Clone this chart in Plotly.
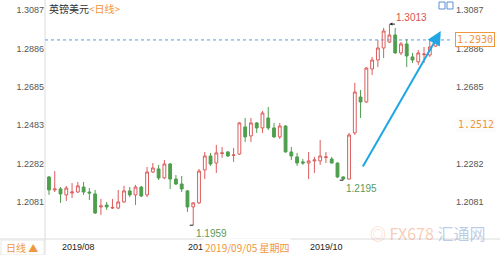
import plotly.graph_objects as go

dates = [
    "2019-07-30", "2019-07-31",
    "2019-08-01", "2019-08-02", "2019-08-05", "2019-08-06", "2019-08-07", "2019-08-08", "2019-08-09",
    "2019-08-12", "2019-08-13", "2019-08-14", "2019-08-15", "2019-08-16", "2019-08-19", "2019-08-20",
    "2019-08-21", "2019-08-22", "2019-08-23", "2019-08-26", "2019-08-27", "2019-08-28", "2019-08-29",
    "2019-08-30",
    "2019-09-02", "2019-09-03", "2019-09-04", "2019-09-05", "2019-09-06", "2019-09-09", "2019-09-10",
    "2019-09-11", "2019-09-12", "2019-09-13", "2019-09-16", "2019-09-17", "2019-09-18", "2019-09-19",
    "2019-09-20", "2019-09-23", "2019-09-24", "2019-09-25", "2019-09-26", "2019-09-27", "2019-09-30",
    "2019-10-01", "2019-10-02", "2019-10-03", "2019-10-04", "2019-10-07", "2019-10-08", "2019-10-09",
    "2019-10-10", "2019-10-11", "2019-10-14", "2019-10-15", "2019-10-16", "2019-10-17", "2019-10-18",
    "2019-10-21", "2019-10-22", "2019-10-23", "2019-10-24", "2019-10-25", "2019-10-28", "2019-10-29",
    "2019-10-30", "2019-10-31",
]

open_ = [
    1.2212, 1.2144, 1.2149, 1.2118, 1.2128, 1.2133, 1.2159, 1.2133, 1.2123, 1.2055,
    1.2065, 1.2049, 1.2049, 1.2081, 1.2139, 1.2118, 1.2159, 1.2118, 1.2238, 1.2254,
    1.2207, 1.2280, 1.2201, 1.2175, 1.2139, 1.2055, 1.2076, 1.2249, 1.2322, 1.2285,
    1.2335, 1.2343, 1.2325, 1.2332, 1.2474, 1.2427, 1.2495, 1.2469, 1.2521, 1.2469,
    1.2422, 1.2479, 1.2343, 1.2317, 1.2291, 1.2285, 1.2296, 1.2296, 1.2314, 1.2306,
    1.2285, 1.2212, 1.2201, 1.2443, 1.2631, 1.2605, 1.2778, 1.2825, 1.2888, 1.2919,
    1.2956, 1.2862, 1.2909, 1.2841, 1.2815, 1.2853, 1.2851, 1.2898,
]
high = [
    1.2217, 1.2243, 1.2159, 1.2165, 1.2180, 1.2186, 1.2186, 1.2154, 1.2144, 1.2097,
    1.2081, 1.2097, 1.2144, 1.2165, 1.2159, 1.2170, 1.2165, 1.2264, 1.2285, 1.2275,
    1.2301, 1.2285, 1.2222, 1.2217, 1.2144, 1.2080, 1.2254, 1.2343, 1.2338, 1.2380,
    1.2369, 1.2348, 1.2364, 1.2500, 1.2521, 1.2521, 1.2500, 1.2558, 1.2579, 1.2495,
    1.2495, 1.2484, 1.2369, 1.2338, 1.2306, 1.2343, 1.2317, 1.2406, 1.2343, 1.2317,
    1.2288, 1.2215, 1.2443, 1.2705, 1.2668, 1.2788, 1.2841, 1.2930, 1.2993, 1.3013,
    1.2993, 1.2919, 1.2935, 1.2862, 1.2877, 1.2893, 1.2930, 1.2940,
]
low = [
    1.2118, 1.2133, 1.2076, 1.2086, 1.2102, 1.2128, 1.2118, 1.2091, 1.2018, 1.2013,
    1.2039, 1.2044, 1.2044, 1.2076, 1.2107, 1.2065, 1.2107, 1.2107, 1.2233, 1.2196,
    1.2201, 1.2149, 1.2170, 1.2133, 1.2029, 1.1959, 1.2071, 1.2201, 1.2270, 1.2233,
    1.2312, 1.2317, 1.2291, 1.2327, 1.2395, 1.2395, 1.2443, 1.2443, 1.2458, 1.2416,
    1.2411, 1.2340, 1.2301, 1.2270, 1.2275, 1.2201, 1.2233, 1.2275, 1.2285, 1.2283,
    1.2207, 1.2195, 1.2198, 1.2432, 1.2521, 1.2600, 1.2746, 1.2788, 1.2835, 1.2914,
    1.2858, 1.2851, 1.2788, 1.2809, 1.2799, 1.2809, 1.2841, 1.2893,
]
close = [
    1.2144, 1.2149, 1.2123, 1.2154, 1.2133, 1.2165, 1.2133, 1.2128, 1.2023, 1.2060,
    1.2055, 1.2052, 1.2081, 1.2139, 1.2118, 1.2159, 1.2112, 1.2238, 1.2259, 1.2207,
    1.2280, 1.2201, 1.2175, 1.2149, 1.2055, 1.2076, 1.2243, 1.2322, 1.2280, 1.2338,
    1.2338, 1.2322, 1.2327, 1.2495, 1.2422, 1.2495, 1.2469, 1.2547, 1.2469, 1.2422,
    1.2479, 1.2343, 1.2322, 1.2285, 1.2285, 1.2296, 1.2301, 1.2322, 1.2317, 1.2285,
    1.2212, 1.2201, 1.2432, 1.2657, 1.2605, 1.2783, 1.2825, 1.2888, 1.2977, 1.2956,
    1.2862, 1.2909, 1.2846, 1.2825, 1.2862, 1.2856, 1.2893, 1.2930,
]

y_ticks = [1.3087, 1.2886, 1.2685, 1.2483, 1.2282, 1.2081]
y_ticks_right_hidden = [1.2483]          # covered by the crosshair price label
month_starts = ["2019-08-01", "2019-09-02", "2019-10-01"]
month_labels = ["2019/08", "201", "2019/10"]   # September label is cut by the crosshair date
crosshair_date = "2019/09/05 星期四"
crosshair_price = "1.2512"

UP = "#dd5c5c"
DOWN = "#4e9e4e"
ORANGE = "#f0963c"
FONT = "Liberation Sans, Arial, Noto Sans CJK SC"

xi = list(range(len(dates)))
tickx = [dates.index(d) for d in month_starts]

# pixel helpers for layout (paper coordinates)
L, R, T, B = 45, 453, 0, 239
def px(x):
    return (x - L) / (R - L)
def py(y):
    return (B - y) / (B - T)

fig = go.Figure()
fig.add_trace(go.Candlestick(
    x=xi, open=open_, high=high, low=low, close=close,
    increasing=dict(line=dict(color=UP, width=1), fillcolor="white"),
    decreasing=dict(line=dict(color=DOWN, width=1), fillcolor=DOWN),
    whiskerwidth=0, showlegend=False, hoverinfo="skip",
))
fig.add_trace(go.Scatter(x=xi, y=close, yaxis="y2", mode="lines",
                         line=dict(width=0, color="rgba(0,0,0,0)"),
                         showlegend=False, hoverinfo="skip"))

yr = [1.18868, 1.31394]
tick_text = [f"{v:.4f}" for v in y_ticks]
tick_text_r = ["" if v in y_ticks_right_hidden else f"{v:.4f}" for v in y_ticks]
fig.update_layout(
    width=500, height=255,
    margin=dict(l=L, r=500 - R, t=T, b=255 - B),
    paper_bgcolor="white", plot_bgcolor="white",
    font=dict(family=FONT, size=9, color="#444"),
    boxgap=0.3,
    xaxis=dict(
        range=[-0.69, 70.02], showgrid=False, zeroline=False,
        showticklabels=False, showline=False, rangeslider=dict(visible=False), ticks="",
    ),
    yaxis=dict(
        range=yr, tickvals=y_ticks, ticktext=tick_text, showgrid=False,
        zeroline=False, showline=False, ticks="",
        tickfont=dict(size=9, color="#555", family=FONT),
    ),
    yaxis2=dict(
        range=yr, tickvals=y_ticks, ticktext=tick_text_r, showgrid=False,
        zeroline=False, showline=False, ticks="", overlaying="y", side="right",
        tickfont=dict(size=9, color="#555", family=FONT), ticklabelstandoff=2,
    ),
)

shapes = []
shapes.append(dict(type="line", xref="paper", yref="paper", x0=0, x1=0, y0=py(0), y1=py(255),
                   line=dict(color="#dcdcdc", width=1)))
shapes.append(dict(type="line", xref="paper", yref="paper", x0=px(0), x1=px(500), y0=0, y1=0,
                   line=dict(color="#dcdcdc", width=1)))
shapes.append(dict(type="rect", xref="paper", yref="paper", x0=px(1), x1=px(44), y0=py(240), y1=py(255),
                   line=dict(color="#e6e6e6", width=1)))
shapes.append(dict(type="line", xref="paper", yref="y", x0=0, x1=1, y0=close[-1], y1=close[-1],
                   line=dict(color="#5b9bd5", width=1, dash="dot")))
shapes.append(dict(type="rect", xref="paper", yref="paper", x0=px(439), x1=px(445), y0=py(9), y1=py(2),
                   line=dict(color="#5b8fd0", width=1)))
shapes.append(dict(type="rect", xref="paper", yref="paper", x0=px(447), x1=px(453), y0=py(9), y1=py(2),
                   line=dict(color="#5b8fd0", width=1)))
fig.update_layout(shapes=shapes)

i_hi = high.index(max(high))
i_lo = low.index(min(low))
i_lo2 = 51

ann = []
ann.append(dict(xref="paper", yref="paper", x=px(47), y=1, xanchor="left", yanchor="top", yshift=1,
                text=f'英镑美元<span style="color:{ORANGE}">&lt;日线&gt;</span>', showarrow=False,
                font=dict(size=10, color="#333", family="Noto Sans CJK SC")))
# month labels, left-aligned at the first trading day
for tx, lab in zip(tickx, month_labels):
    ann.append(dict(x=tx, y=py(247), xref="x", yref="paper", xanchor="left", yanchor="middle",
                    xshift=-1, text=lab, showarrow=False,
                    font=dict(size=9, color="#222", family=FONT)))
# high marker
ann.append(dict(x=i_hi, y=high[i_hi], xref="x", yref="y", ax=7, ay=0, text="", showarrow=True,
                arrowhead=2, arrowsize=0.6, arrowwidth=1, arrowcolor="#222", standoff=0))
ann.append(dict(x=i_hi, y=high[i_hi], xref="x", yref="y", xanchor="left", yanchor="bottom",
                xshift=5, yshift=-1, text=f"{high[i_hi]:.4f}", showarrow=False,
                font=dict(size=10, color="#d9534f")))
# low markers
for idx, val in [(i_lo, low[i_lo]), (i_lo2, low[i_lo2])]:
    ann.append(dict(x=idx, y=val, xref="x", yref="y", ax=-5, ay=0, text="", showarrow=True,
                    arrowhead=0, arrowwidth=1, arrowcolor="#222", standoff=0))
    ann.append(dict(x=idx, y=val, xref="x", yref="y", xanchor="left", yanchor="top",
                    xshift=1, yshift=-1, text=f"{val:.4f}", showarrow=False,
                    font=dict(size=10, color="#5a9a5a")))
# trend arrow
ann.append(dict(x=67.9, y=1.2977, ax=54.25, ay=1.2259, xref="x", yref="y", axref="x", ayref="y",
                text="", showarrow=True, arrowhead=2, arrowsize=1.4, arrowwidth=2,
                arrowcolor="#1ea7e4", standoff=0))
# right price labels
ann.append(dict(xref="paper", yref="y", x=px(455), y=close[-1], xanchor="left", yanchor="middle",
                text=f"{close[-1]:.4f}", showarrow=False, bgcolor="white",
                bordercolor=ORANGE, borderwidth=1, borderpad=1,
                font=dict(size=10, color=ORANGE, family="DejaVu Sans Mono")))
ann.append(dict(xref="paper", yref="paper", x=px(456), y=py(124), xanchor="left", yanchor="middle",
                text=crosshair_price, showarrow=False, bgcolor="#fbfbfb",
                font=dict(size=10, color=ORANGE, family="DejaVu Sans Mono")))
# crosshair date label
ann.append(dict(xref="paper", yref="paper", x=px(203), y=py(247), xanchor="left", yanchor="middle",
                text=crosshair_date, showarrow=False, bgcolor="white",
                font=dict(size=10, color=ORANGE, family="Noto Sans CJK SC")))
# bottom tab
ann.append(dict(xref="paper", yref="paper", x=px(22), y=py(247), xanchor="center", yanchor="middle",
                text="日线 ▲", showarrow=False,
                font=dict(size=10, color=ORANGE, family="Noto Sans CJK SC")))
# watermark
ann.append(dict(xref="paper", yref="paper", x=px(368), y=py(233), xanchor="left", yanchor="middle",
                text='<span style="color:rgba(240,140,90,0.45)">◎ FX678</span>'
                     '<span style="color:rgba(110,140,200,0.45)"> 汇通网</span>',
                showarrow=False, font=dict(size=16, family="Noto Sans CJK SC")))
fig.update_layout(annotations=ann)

fig.write_html("out.html")
